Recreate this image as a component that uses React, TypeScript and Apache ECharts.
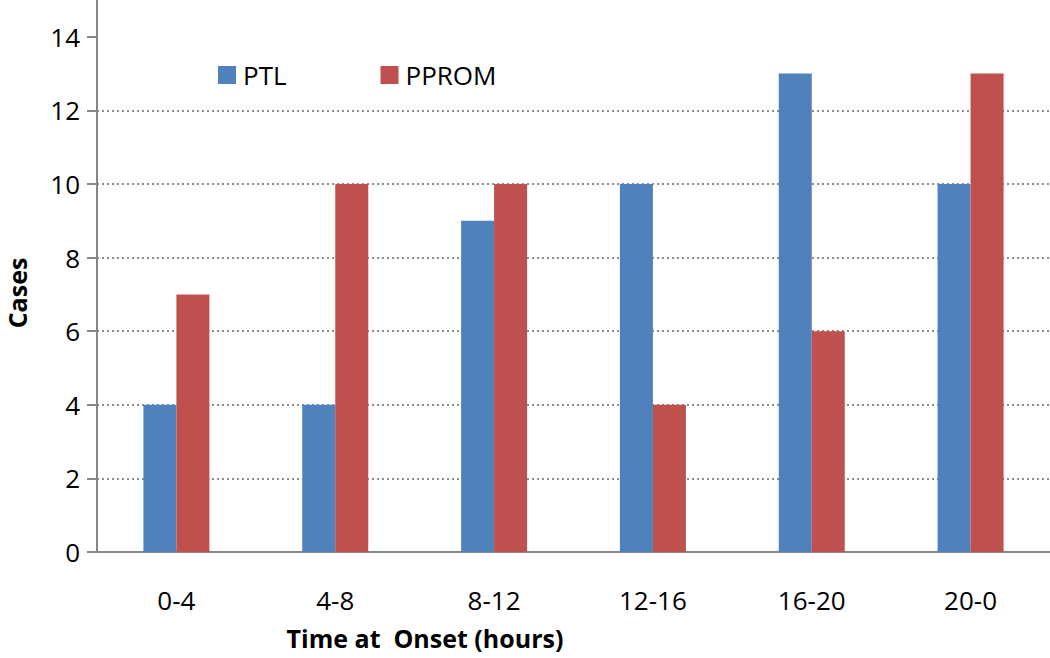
import React, { useEffect, useRef } from "react";
import * as echarts from "echarts";

const categories = ["0-4", "4-8", "8-12", "12-16", "16-20", "20-0"];
const ptl = [4, 4, 9, 10, 13, 10];
const pprom = [7, 10, 10, 4, 6, 13];
const yTicks = [0, 2, 4, 6, 8, 10, 12, 14];

const FONT = "'Open Sans', sans-serif";

export default function App() {
  const ref = useRef<HTMLDivElement>(null);
  useEffect(() => {
    if (!ref.current) return;
    const chart = echarts.init(ref.current, undefined, { renderer: "svg" });
    chart.setOption({
      animation: false,
      backgroundColor: "#ffffff",
      grid: { left: 97, right: 0, top: 0, bottom: 106, containLabel: false },
      legend: {
        left: 213,
        top: 57,
        itemWidth: 18,
        itemHeight: 18,
        itemGap: 94,
        icon: "rect",
        textStyle: { fontFamily: FONT, fontSize: 26, color: "#000", padding: [0, 0, 0, 2] },
        data: ["PTL", "PPROM"],
      },
      xAxis: {
        type: "category",
        data: categories,
        axisLine: { show: true, lineStyle: { color: "#868686", width: 2 } },
        axisTick: { show: false },
        axisLabel: { fontFamily: FONT, fontSize: 26, color: "#000", margin: 35 },
      },
      yAxis: {
        type: "value",
        min: 0,
        max: 15,
        interval: 2,
        axisLine: { show: true, lineStyle: { color: "#868686", width: 2 } },
        axisTick: {
          show: true,
          length: 10,
          lineStyle: { color: "#868686", width: 2 },
          customValues: yTicks,
        },
        axisLabel: {
          fontFamily: FONT,
          fontSize: 26,
          color: "#000",
          margin: 17,
          customValues: yTicks,
        },
        splitLine: {
          show: true,
          showMaxLine: false,
          lineStyle: { color: "#8c8c8c", type: [2, 3], width: 2 },
        },
      },
      graphic: [
        {
          type: "text",
          x: 17,
          y: 293,
          rotation: Math.PI / 2,
          style: {
            text: "Cases",
            fontFamily: FONT,
            fontWeight: "bold",
            fontSize: 25,
            fill: "#000",
            align: "center",
            verticalAlign: "middle",
          },
        },
        {
          type: "text",
          x: 425,
          y: 638,
          style: {
            text: "Time at  Onset (hours)",
            fontFamily: FONT,
            fontWeight: "bold",
            fontSize: 25,
            fill: "#000",
            align: "center",
            verticalAlign: "middle",
          },
        },
      ],
      series: [
        {
          name: "PTL",
          type: "bar",
          data: ptl,
          barWidth: 33,
          barGap: "0%",
          itemStyle: { color: "#4F81BD" },
        },
        {
          name: "PPROM",
          type: "bar",
          data: pprom,
          barWidth: 33,
          barGap: "0%",
          itemStyle: { color: "#C0504D" },
        },
      ],
    });
    return () => chart.dispose();
  }, []);
  return <div ref={ref} style={{ width: 1050, height: 658, position: "absolute", left: 0, top: 0 }} />;
}
